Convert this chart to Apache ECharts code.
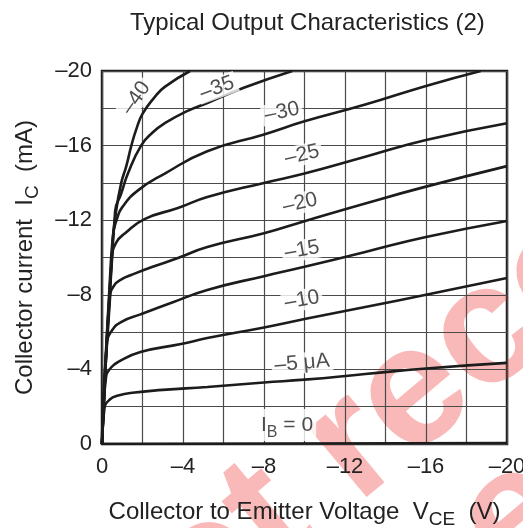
<!DOCTYPE html>
<html>
<head>
<meta charset="utf-8">
<script src="https://cdn.jsdelivr.net/npm/echarts@6/dist/echarts.min.js"></script>
<style>
html,body{margin:0;padding:0;background:#fff;}
#c{width:523px;height:528px;}
</style>
</head>
<body>
<div id="c"></div>
<script>
// ---- Data (V_CE in V, I_C in mA) ----
const ib0  = [[0,0],[-20,-0.05]];
const ib5  = [[0,0],[-0.12,-1.9],[-0.4,-2.4],[-0.8,-2.6],[-1.5,-2.75],[-3,-2.9],[-5.2,-3.06],[-8,-3.3],[-10,-3.45],[-13,-3.75],[-16,-4.05],[-20,-4.35]];
const ib10 = [[0,0],[-0.2,-3.6],[-0.45,-4.1],[-0.8,-4.4],[-1.9,-4.93],[-3.9,-5.36],[-5.2,-5.68],[-8,-6.25],[-10,-6.7],[-13,-7.35],[-16,-8.0],[-20,-8.9]];
const ib15 = [[0,0],[-0.25,-5.5],[-0.5,-6.1],[-0.94,-6.54],[-1.9,-6.95],[-3.5,-7.6],[-5.2,-8.26],[-8,-9.0],[-10,-9.5],[-13,-10.3],[-16,-11.1],[-20,-11.96]];
const ib20 = [[0,0],[-0.4,-7.9],[-0.6,-8.5],[-1.0,-8.85],[-1.44,-9.06],[-2.5,-9.5],[-3.75,-9.97],[-5.2,-10.56],[-8,-11.3],[-10,-11.95],[-13,-12.9],[-16,-13.8],[-20,-14.9]];
const ib25 = [[0,0],[-0.5,-10.0],[-0.7,-10.8],[-1.14,-11.3],[-2.1,-12.06],[-3.75,-12.65],[-5.2,-13.24],[-8,-14.0],[-10,-14.5],[-13,-15.4],[-16,-16.3],[-20,-17.2]];
const ib30 = [[0,0],[-0.55,-11.2],[-0.75,-12.1],[-1.0,-12.7],[-1.78,-13.6],[-3.1,-14.5],[-5.2,-15.7],[-8,-16.6],[-10,-17.3],[-13,-18.2],[-16,-19.2],[-18.7,-20]];
const ib35 = [[0,0],[-0.65,-12.5],[-0.94,-13.4],[-1.28,-14.5],[-1.93,-16.0],[-2.5,-16.7],[-3.1,-17.2],[-4.2,-17.85],[-5.23,-18.3],[-7,-19.1],[-9.4,-20]];
const ib40 = [[0,0],[-0.45,-10],[-0.7,-12.5],[-0.95,-14.0],[-1.2,-14.9],[-1.45,-16.0],[-1.7,-16.9],[-2.0,-17.7],[-2.6,-18.6],[-3.1,-19.15],[-4.35,-20]];
const curves = [ib0, ib5, ib10, ib15, ib20, ib25, ib30, ib35, ib40];

const curveLabels  = ['{i|I}{sub|B} = 0','–5 μA','–10','–15','–20','–25','–30','–35','–40'];
const labelAnchors = [[-9.14,-1.02],[-9.88,-4.34],[-9.88,-7.72],[-9.88,-10.4],[-9.78,-12.92],[-9.88,-15.5],[-8.89,-17.8],[-5.68,-19.09],[-1.68,-18.55]];
const labelAngles  = [0,5,10,10,13,13,12,20,55];

const tickLabelEvery = 4;
const titleText = 'Typical Output Characteristics (2)';
const xName = 'Collector to Emitter Voltage  V{sub|CE}  (V)';
const yName = 'Collector current  I{sub|C}  (mA)';
const watermark1 = 'not recommended';
const watermark2 = 'for new design';

// ---- Chart ----
const chart = echarts.init(document.getElementById('c'), null, {renderer:'canvas'});
const font = 'Liberation Sans, Arial, Helvetica, sans-serif';
const txt = '#222';
const fmt = v => (Math.abs(v) % tickLabelEvery === 0) ? (v === 0 ? '0' : '–' + Math.abs(v)) : '';
const subStyle = {fontSize:19, fontFamily:font, color:txt, verticalAlign:'bottom', lineHeight:19};
const wmStyle = t => ({text:t, x:0, y:0, textAlign:'left', textVerticalAlign:'alphabetic',
      font:'bold 170px Liberation Sans, Arial, sans-serif', fill:'rgba(240,60,60,0.36)'});

const series = curves.map(d => ({
  type:'line', data:d, symbol:'none', smooth:0.5,
  lineStyle:{color:'#1c1c1c', width:2.6}, z:3, silent:true, animation:false
}));
series.push({
  type:'scatter', symbolSize:0, z:5, animation:false, silent:true,
  data: labelAnchors.map((p,i) => ({
    value:p,
    label:{show:true, position:'inside', rotate:labelAngles[i], formatter:curveLabels[i]}
  })),
  label:{
    color:txt, fontSize:21, fontFamily:font, backgroundColor:'#fff', padding:[0,3],
    rich:{ i:{fontSize:21, fontFamily:font, color:txt, lineHeight:32},
           sub:{fontSize:16, fontFamily:font, color:txt, verticalAlign:'bottom', lineHeight:17} }
  }
});

chart.setOption({
  animation:false,
  backgroundColor:'#fff',
  title:{text:titleText, left:125, top:6, textStyle:{fontFamily:font, fontSize:24, fontWeight:'normal', color:txt}},
  grid:{left:102, right:16, top:71, bottom:84, containLabel:false, outerBoundsMode:'none',
        show:true, borderColor:'#1c1c1c', borderWidth:2.5, backgroundColor:'transparent'},
  xAxis:{
    type:'value', min:-20, max:0, interval:2, inverse:true,
    axisLine:{show:false}, axisTick:{show:false},
    splitLine:{show:true, lineStyle:{color:'#4a4a4a', width:1.2}},
    axisLabel:{formatter:fmt, color:txt, fontSize:22, fontFamily:font, margin:12},
    name:xName, nameLocation:'middle', nameGap:51,
    nameTextStyle:{color:txt, fontSize:24, fontFamily:font, lineHeight:34, rich:{sub:subStyle}}
  },
  yAxis:{
    type:'value', min:-20, max:0, interval:2, inverse:true,
    axisLine:{show:false}, axisTick:{show:false},
    splitLine:{show:true, lineStyle:{color:'#4a4a4a', width:1.2}},
    axisLabel:{formatter:fmt, color:txt, fontSize:22, fontFamily:font, margin:10},
    name:yName, nameLocation:'middle', nameGap:60,
    nameTextStyle:{color:txt, fontSize:24, fontFamily:font, lineHeight:34, rich:{sub:subStyle}}
  },
  graphic:[
    {type:'group', x:34, y:604, rotation:0.698, z:100, silent:true,
     children:[{type:'text', style:wmStyle(watermark1)}]},
    {type:'group', x:136, y:726, rotation:0.698, z:100, silent:true,
     children:[{type:'text', style:wmStyle(watermark2)}]}
  ],
  series:series
});
</script>
</body>
</html>
